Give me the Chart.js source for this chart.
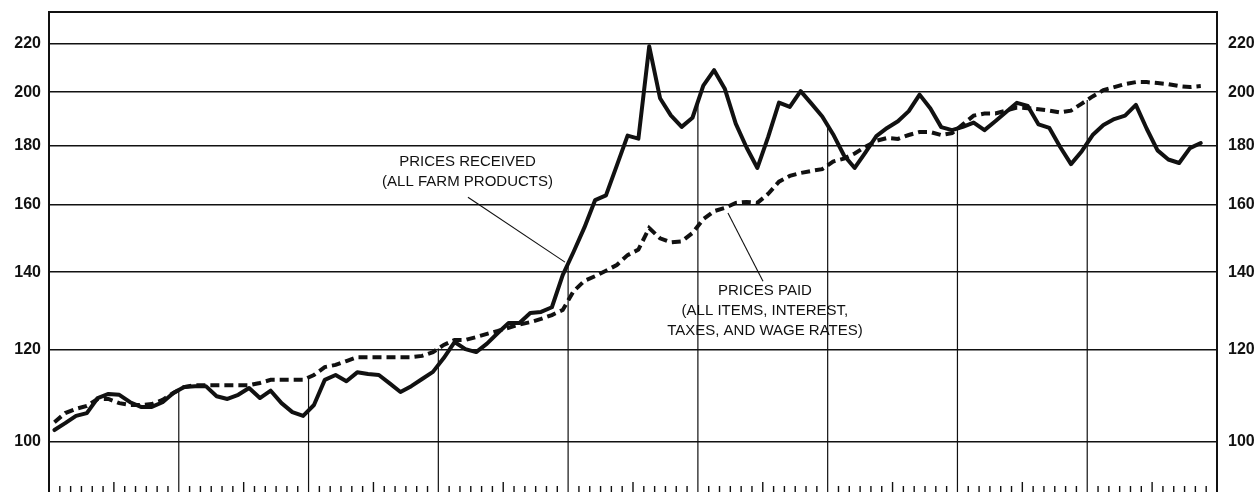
<!DOCTYPE html>
<html>
<head>
<meta charset="utf-8">
<script src="https://cdn.jsdelivr.net/npm/chart.js@4.4.1/dist/chart.umd.min.js"></script>
<style>
  html, body { margin: 0; padding: 0; background: #ffffff; overflow: hidden; }
  #wrap { width: 1258px; height: 492px; position: relative; }
</style>
</head>
<body>
<div id="wrap"><canvas id="c" width="1258" height="492"></canvas></div>
<script>
// ---- categories ----
const years = ['1969','1970','1971','1972','1973','1974','1975','1976','1977'];
const monthNames = ['JAN','FEB','MAR','APR','MAY','JUN','JUL','AUG','SEP','OCT','NOV','DEC'];
const monthLabels = [];
years.forEach(y => monthNames.forEach(m => monthLabels.push(m + ' ' + y)));

// ---- series values (index, 1967 = 100), Jan 1969 .. Nov 1977 ----
const pricesReceived = [
  102.4,103.8,105.3,105.9,109.1,110.0,109.8,108.2,107.2,107.2,108.2,110.2,
  111.5,111.7,111.7,109.5,108.9,109.8,111.3,109.1,110.7,108.0,106.1,105.3,
  107.6,113.1,114.2,112.8,114.8,114.4,114.2,112.3,110.4,111.7,113.3,114.9,
  118.1,121.9,120.2,119.5,121.5,124.1,126.6,126.6,129.1,129.4,130.6,139.2,
  145.7,152.9,161.5,163.0,172.9,183.5,182.4,219.0,197.6,191.0,186.7,190.1,
  202.6,208.9,201.2,187.9,179.2,172.1,183.0,195.9,194.2,200.4,195.5,190.6,
  184.0,176.5,172.1,177.5,183.3,186.3,188.8,192.6,199.0,193.6,186.6,185.5,
  186.7,188.3,185.5,188.8,192.3,195.8,194.6,187.6,186.3,179.4,173.4,177.9,
  183.7,187.4,189.6,190.9,195.0,186.0,178.2,175.0,173.8,179.0,180.8
];
const pricesPaid = [
  104.0,105.9,106.8,107.4,108.9,108.9,108.0,107.6,107.6,107.8,108.7,110.2,
  111.5,111.9,111.9,111.9,111.9,111.9,111.9,112.4,113.1,113.1,113.1,113.1,
  114.2,116.0,116.5,117.4,118.3,118.3,118.3,118.3,118.3,118.3,118.6,119.5,
  121.2,122.4,122.4,123.1,123.9,124.6,125.4,126.2,126.8,127.6,128.6,129.9,
  134.8,137.6,138.9,140.4,142.0,144.8,146.4,152.8,149.7,148.5,148.8,151.3,
  155.5,158.0,159.0,160.6,160.9,160.6,163.5,167.5,169.4,170.4,171.1,171.7,
  174.3,175.3,177.1,179.5,181.6,182.6,182.3,183.7,184.8,184.8,183.7,184.4,
  187.6,190.9,191.7,191.7,192.8,194.0,193.7,193.3,192.8,192.1,192.8,195.5,
  198.3,200.8,202.0,203.2,204.0,204.0,203.6,203.2,202.4,202.0,202.4
];

// ---- tick labels ----
const yTickValues = [100, 120, 140, 160, 180, 200, 220];
const yTickLabels = ['100', '120', '140', '160', '180', '200', '220'];

// ---- axis ranges (ratio scale) ----
const Y_MIN = 90.57, Y_MAX = 234.4;
const X_MIN = 0, X_MAX = years.length * 12;

// ---- annotation text ----
const receivedNote = ['PRICES RECEIVED', '(ALL FARM PRODUCTS)'];
const paidNote = ['PRICES PAID', '(ALL ITEMS, INTEREST,', 'TAXES, AND WAGE RATES)'];

const INK = '#111111';

// annotation anchors in data units (month position, index value)
const notes = [
  { lines: receivedNote, at: [38.7, 174.1], lead: [[38.74, 162.4], [47.71, 142.8]] },
  { lines: paidNote, at: [66.2, 134.85], lead: [[66.02, 137.5], [62.78, 157.4]] }
];

const toPoints = arr => arr.map((v, i) => ({ x: i + 0.5, y: v }));

const decorPlugin = {
  id: 'decor',
  beforeDatasetsDraw(chart) {
    const { ctx, chartArea: a, scales } = chart;
    const xs = scales.x, ys = scales.y;
    ctx.save();
    // year separators from the bottom up to the upper curve
    ctx.strokeStyle = INK;
    ctx.lineWidth = 1.2;
    for (let b = 12; b < X_MAX; b += 12) {
      const px = xs.getPixelForValue(b);
      const yr = (ys.getPixelForValue(pricesReceived[b - 1]) + ys.getPixelForValue(pricesReceived[b])) / 2;
      const yp = (ys.getPixelForValue(pricesPaid[b - 1]) + ys.getPixelForValue(pricesPaid[b])) / 2;
      ctx.beginPath();
      ctx.moveTo(px, Math.min(yr, yp));
      ctx.lineTo(px, a.bottom);
      ctx.stroke();
    }
    // month tick marks along the bottom
    ctx.lineWidth = 1.4;
    for (let k = 1; k < X_MAX; k++) {
      if (k % 12 === 0) continue;
      const px = xs.getPixelForValue(k);
      const h = (k % 12 === 6) ? 10 : 6;
      ctx.beginPath();
      ctx.moveTo(px, a.bottom - h);
      ctx.lineTo(px, a.bottom);
      ctx.stroke();
    }
    // top frame line
    ctx.lineWidth = 2;
    ctx.beginPath();
    ctx.moveTo(a.left - 1, a.top);
    ctx.lineTo(a.right + 1, a.top);
    ctx.stroke();
    ctx.restore();
  },
  afterDatasetsDraw(chart) {
    const { ctx, scales } = chart;
    const xs = scales.x, ys = scales.y;
    ctx.save();
    ctx.fillStyle = INK;
    ctx.strokeStyle = INK;
    ctx.font = '15px "Liberation Sans", Arial, sans-serif';
    ctx.textAlign = 'center';
    ctx.textBaseline = 'middle';
    notes.forEach(n => {
      const cx = xs.getPixelForValue(n.at[0]);
      const cy = ys.getPixelForValue(n.at[1]);
      n.lines.forEach((t, i) => ctx.fillText(t, cx, cy + i * 19.8));
      ctx.lineWidth = 1.1;
      ctx.beginPath();
      ctx.moveTo(xs.getPixelForValue(n.lead[0][0]), ys.getPixelForValue(n.lead[0][1]));
      ctx.lineTo(xs.getPixelForValue(n.lead[1][0]), ys.getPixelForValue(n.lead[1][1]));
      ctx.stroke();
    });
    ctx.restore();
  }
};

const tickFont = { family: '"Liberation Sans", Arial, sans-serif', size: 16, weight: 'bold' };
const setTicks = s => { s.ticks = yTickValues.map(v => ({ value: v })); };
const labelFor = v => { const i = yTickValues.indexOf(v); return i >= 0 ? yTickLabels[i] : ''; };
const fitLeft = s => { s.width = 49; s.paddingTop = 0; s.paddingBottom = 0; };
const fitRight = s => { s.width = 41; s.paddingTop = 0; s.paddingBottom = 0; };

new Chart(document.getElementById('c'), {
  type: 'line',
  data: {
    labels: monthLabels,
    datasets: [
      {
        label: 'Prices received (all farm products)',
        data: toPoints(pricesReceived),
        borderColor: INK, borderWidth: 4, pointRadius: 0, tension: 0,
        borderJoinStyle: 'round', borderCapStyle: 'round', yAxisID: 'y'
      },
      {
        label: 'Prices paid (all items, interest, taxes, and wage rates)',
        data: toPoints(pricesPaid),
        borderColor: INK, borderWidth: 4, pointRadius: 0, tension: 0,
        borderDash: [9, 5], borderCapStyle: 'butt', yAxisID: 'y'
      }
    ]
  },
  options: {
    responsive: false,
    animation: false,
    devicePixelRatio: 1,
    layout: { padding: { top: 12, bottom: 0, left: 0, right: 0 } },
    plugins: { legend: { display: false }, tooltip: { enabled: false } },
    scales: {
      x: {
        type: 'linear', min: X_MIN, max: X_MAX, display: false,
        afterBuildTicks: s => { s.ticks = []; }
      },
      y: {
        type: 'logarithmic', position: 'left', min: Y_MIN, max: Y_MAX,
        afterBuildTicks: setTicks,
        afterFit: fitLeft,
        grid: { color: INK, lineWidth: 1.5, drawTicks: false },
        border: { display: true, color: INK, width: 2 },
        ticks: { color: INK, font: tickFont, padding: 8, callback: labelFor }
      },
      y2: {
        type: 'logarithmic', position: 'right', min: Y_MIN, max: Y_MAX,
        afterBuildTicks: setTicks,
        afterFit: fitRight,
        grid: { drawOnChartArea: false, drawTicks: false },
        border: { display: true, color: INK, width: 2 },
        ticks: { color: INK, font: tickFont, padding: 11, callback: labelFor }
      }
    }
  },
  plugins: [decorPlugin]
});
</script>
</body>
</html>
